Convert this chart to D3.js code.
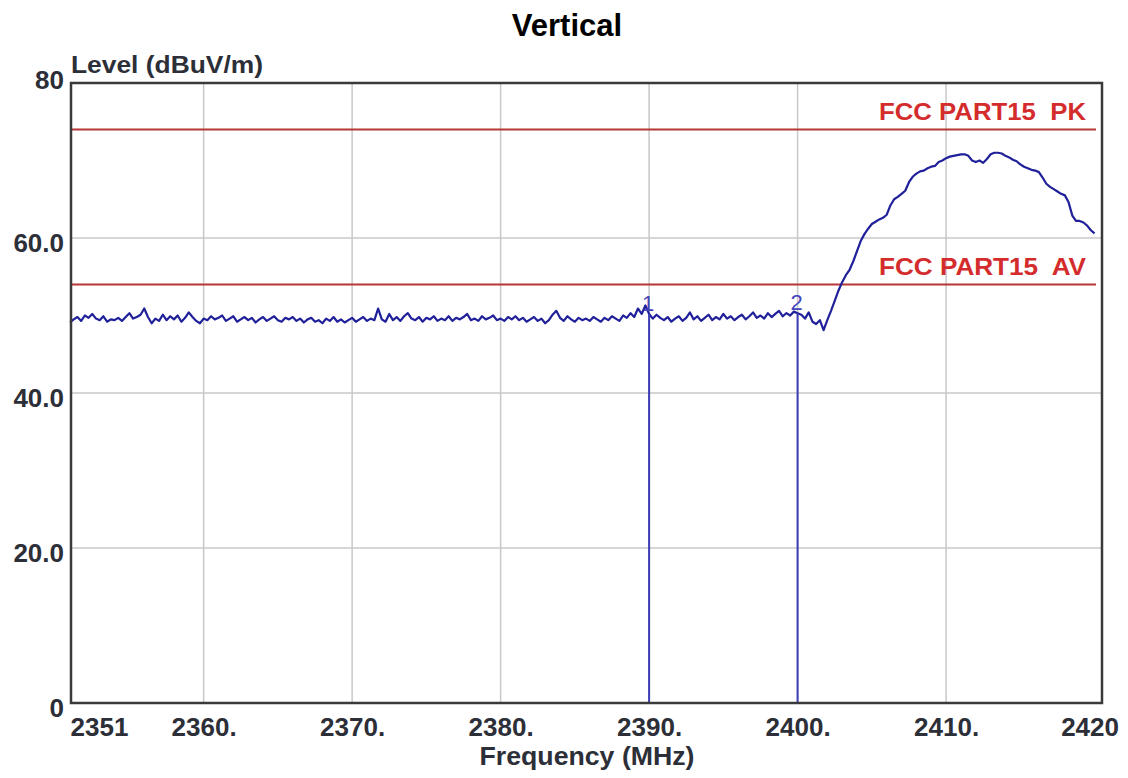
<!DOCTYPE html>
<html>
<head>
<meta charset="utf-8">
<script src="https://cdn.jsdelivr.net/npm/d3@7/dist/d3.min.js"></script>
<style>
  html, body { margin: 0; padding: 0; background: #fff; }
  text { font-family: "Liberation Sans", Arial, sans-serif; }
</style>
</head>
<body>
<svg id="chart" width="1128" height="778"></svg>
<script>
// sweep: 2351 .. 2420 MHz, one reading every 0.25 MHz
var sweepStartMHz = 2351;
var sweepStepMHz = 0.25;
var levelDbuv = [
  49.1, 49.5, 49.8, 49.3, 50.0, 49.7, 50.2, 49.6, 49.4, 49.9, 49.2, 49.5, 49.4, 49.7, 49.3, 49.8, 50.3, 49.6, 49.8, 50.1,
  50.9, 49.8, 49.0, 49.6, 49.3, 50.1, 49.4, 49.9, 49.5, 50.0, 49.2, 49.7, 50.4, 49.8, 49.3, 49.0, 49.6, 49.4, 49.9, 49.5,
  49.7, 50.0, 49.3, 49.6, 49.9, 49.2, 49.5, 49.8, 49.4, 49.7, 49.1, 49.5, 49.8, 49.3, 49.6, 49.9, 49.4, 49.2, 49.7, 49.5,
  49.8, 49.3, 49.6, 49.1, 49.5, 49.7, 49.2, 49.4, 49.0, 49.6, 49.3, 49.8, 49.2, 49.5, 49.1, 49.4, 49.7, 49.2, 49.5, 49.8,
  49.3, 49.6, 49.4, 50.9, 49.5, 49.2, 50.2, 49.4, 49.8, 49.3, 49.9, 50.3, 49.6, 49.4, 49.8, 49.2, 49.7, 49.5, 49.9, 49.3,
  49.6, 49.4, 49.9, 49.3, 49.7, 49.5, 49.8, 50.2, 49.4, 49.6, 49.3, 49.9, 49.5, 49.7, 50.0, 49.4, 49.6, 49.3, 49.8, 49.5,
  49.9, 49.4, 49.7, 49.2, 49.5, 49.8, 49.3, 49.6, 49.0, 49.4, 50.1, 50.6, 49.7, 49.3, 49.9, 49.5, 49.2, 49.7, 49.4, 49.6,
  49.3, 49.8, 49.5, 49.2, 49.7, 49.4, 49.9, 49.6, 49.3, 50.0, 49.7, 50.3, 49.8, 50.9, 50.2, 51.3, 50.2, 49.6, 50.1, 49.7,
  49.4, 49.8, 49.2, 49.6, 49.9, 49.3, 49.7, 50.4, 49.5, 49.9, 49.3, 49.7, 50.1, 49.4, 49.8, 49.5, 50.2, 49.6, 49.9, 49.4,
  49.8, 50.1, 49.5, 49.9, 50.4, 49.7, 50.0, 49.6, 50.3, 49.8, 50.2, 50.6, 49.9, 50.3, 50.0, 50.5, 50.3, 50.1, 49.6, 50.4,
  49.2, 48.9, 49.4,
  48.1, 49.4, 50.6, 51.9, 53.2,
  54.3, 55.2, 55.9, 57.0,
  58.3, 59.6, 60.5, 61.2,
  61.8, 62.1, 62.4, 62.6,
  63.0, 64.2, 65.0, 65.3,
  65.7, 66.1, 67.2, 67.9,
  68.3, 68.6, 68.7, 69.0,
  69.2, 69.3, 69.8, 70.0,
  70.3, 70.5, 70.6, 70.7,
  70.8, 70.8, 70.6, 70.0,
  69.8, 70.0, 69.7, 70.2,
  70.8, 71.0, 71.0, 70.9,
  70.6, 70.4, 70.1, 69.9,
  69.5, 69.2, 69.0, 68.8,
  68.7, 68.5, 67.8, 67.0,
  66.6, 66.3, 66.0, 65.7,
  65.5, 64.6, 62.9, 62.2,
  62.2, 62.0, 61.6, 61.0,
  60.6
];

var limitNames = ["FCC PART15  PK", "FCC PART15  AV"];
var limitLevels = [74, 54];

var markerIds = ["1", "2"];
var markerMHz = [2390, 2400];
var markerLevels = [50.2, 50.3];

var xTickValues = [2351, 2360, 2370, 2380, 2390, 2400, 2410, 2420];
var xTickLabels = ["2351", "2360.", "2370.", "2380.", "2390.", "2400.", "2410.", "2420"];
var xGridValues = [2360, 2370, 2380, 2390, 2400, 2410];
var yTickValues = [0, 20, 40, 60, 80];
var yTickLabels = ["0", "20.0", "40.0", "60.0", "80"];
var yGridValues = [20, 40, 60];

function draw() {
  var svg = d3.select("#chart");
  var plotLeft = 71, plotRight = 1102, plotTop = 83, plotBottom = 703;
  var textColor = "#2d2f38";

  var x = d3.scaleLinear().domain([2351, 2420.5]).range([70, plotRight]);
  var y = d3.scaleLinear().domain([0, 80]).range([plotBottom, plotTop]);

  svg.append("rect").attr("width", 1128).attr("height", 778).attr("fill", "#fff");

  // grid
  svg.append("g").selectAll("line").data(xGridValues).enter().append("line")
    .attr("x1", (d) => x(d)).attr("x2", (d) => x(d))
    .attr("y1", plotTop).attr("y2", plotBottom)
    .attr("stroke", "#c8c8c8").attr("stroke-width", 1.5);
  svg.append("g").selectAll("line").data(yGridValues).enter().append("line")
    .attr("x1", plotLeft).attr("x2", plotRight)
    .attr("y1", (d) => y(d)).attr("y2", (d) => y(d))
    .attr("stroke", "#c8c8c8").attr("stroke-width", 1.5);

  // limit lines
  var limits = svg.append("g").selectAll("g").data(limitLevels).enter().append("g");
  limits.append("line")
    .attr("x1", plotLeft).attr("x2", plotRight - 6)
    .attr("y1", (d) => y(d)).attr("y2", (d) => y(d))
    .attr("stroke", "#b83636").attr("stroke-width", 2);
  limits.append("text")
    .attr("x", 1086).attr("y", (d) => y(d) - 9.5)
    .attr("text-anchor", "end")
    .attr("textLength", 207).attr("lengthAdjust", "spacingAndGlyphs")
    .style("white-space", "pre")
    .attr("font-size", 23).attr("font-weight", "bold")
    .attr("fill", "#d42c2c")
    .text((d, i) => limitNames[i]);

  // trace
  var trace = levelDbuv.map(function(v, i) {
    return { f: sweepStartMHz + i * sweepStepMHz, v: v };
  });
  var line = d3.line().x((d) => x(d.f)).y((d) => y(d.v));
  svg.append("path").datum(trace)
    .attr("d", line)
    .attr("fill", "none")
    .attr("stroke", "#20209a").attr("stroke-width", 2.2)
    .attr("stroke-linejoin", "round");

  // markers
  var markers = svg.append("g").selectAll("g").data(markerMHz).enter().append("g");
  markers.append("line")
    .attr("x1", (d) => x(d)).attr("x2", (d) => x(d))
    .attr("y1", (d, i) => y(markerLevels[i])).attr("y2", plotBottom)
    .attr("stroke", "#3c3cb4").attr("stroke-width", 2);
  markers.append("text")
    .attr("x", (d) => x(d) - 1).attr("y", (d, i) => y(markerLevels[i]) - 3)
    .attr("text-anchor", "middle")
    .attr("font-size", 22)
    .attr("fill", "#4444bb")
    .text((d, i) => markerIds[i]);

  // frame
  svg.append("rect")
    .attr("x", plotLeft).attr("y", plotTop)
    .attr("width", plotRight - plotLeft).attr("height", plotBottom - plotTop)
    .attr("fill", "none").attr("stroke", "#3a3a3a").attr("stroke-width", 2.5);

  // axes
  var xAxis = d3.axisBottom(x).tickValues(xTickValues).tickSize(0).tickPadding(15)
    .tickFormat((d, i) => xTickLabels[i]);
  var gx = svg.append("g").attr("transform", "translate(0," + plotBottom + ")").call(xAxis);
  gx.select(".domain").remove();
  gx.selectAll("text")
    .attr("font-size", 26).attr("font-weight", "bold").attr("fill", textColor)
    .attr("font-family", "Liberation Sans, Arial, sans-serif");
  gx.selectAll(".tick").filter((d) => d === 2351).select("text")
    .attr("text-anchor", "start").attr("x", 0);
  gx.selectAll(".tick").filter((d) => d === 2420).select("text")
    .attr("x", -5);

  var yAxis = d3.axisLeft(y).tickValues(yTickValues).tickSize(0).tickPadding(7)
    .tickFormat((d, i) => yTickLabels[i]);
  var gy = svg.append("g").attr("transform", "translate(" + plotLeft + ",0)").call(yAxis);
  gy.select(".domain").remove();
  gy.selectAll("text")
    .attr("font-size", 26).attr("font-weight", "bold").attr("fill", textColor)
    .attr("font-family", "Liberation Sans, Arial, sans-serif")
    .attr("dy", (d) => d === 80 ? "0.2em" : "0.52em");

  // titles
  svg.append("text")
    .attr("x", 567).attr("y", 36)
    .attr("text-anchor", "middle")
    .attr("font-size", 31).attr("font-weight", "bold").attr("fill", "#000")
    .text("Vertical");
  svg.append("text")
    .attr("x", 71).attr("y", 73)
    .attr("textLength", 192).attr("lengthAdjust", "spacingAndGlyphs")
    .attr("font-size", 23).attr("font-weight", "bold").attr("fill", textColor)
    .text("Level (dBuV/m)");
  svg.append("text")
    .attr("x", 587).attr("y", 765)
    .attr("text-anchor", "middle")
    .attr("textLength", 215).attr("lengthAdjust", "spacingAndGlyphs")
    .attr("font-size", 25).attr("font-weight", "bold").attr("fill", textColor)
    .text("Frequency (MHz)");
}

draw();
</script>
</body>
</html>
